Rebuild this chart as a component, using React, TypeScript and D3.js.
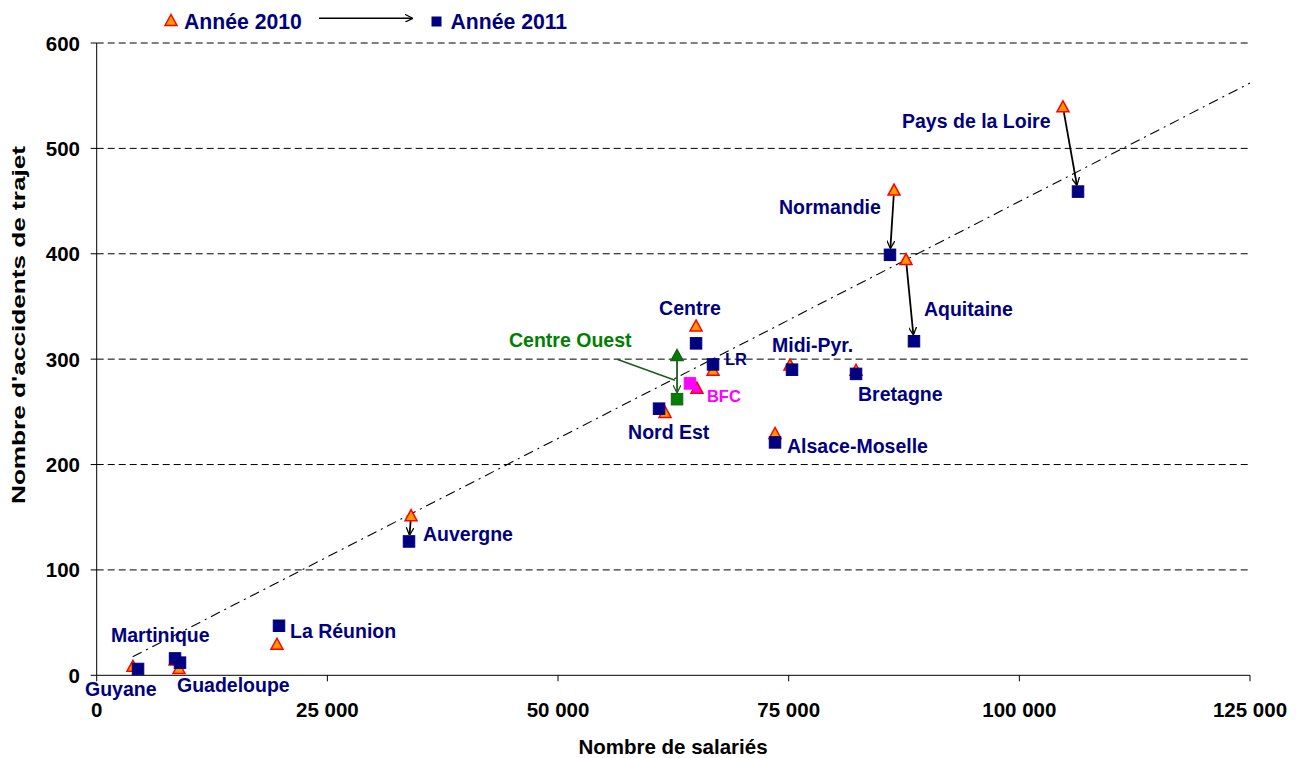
import React from 'react';
import * as d3 from 'd3';

// ---------- DATA ----------
const regions = [
  'Pays de la Loire', 'Normandie', 'Aquitaine', 'Midi-Pyr.', 'Bretagne', 'Alsace-Moselle',
  'Centre', 'LR', 'BFC', 'Centre Ouest', 'Nord Est', 'Auvergne', 'La Réunion',
  'Martinique', 'Guadeloupe', 'Guyane',
];
const salaries2010 = [104730, 86420, 87720, 75140, 82300, 73520, 64960, 66800, 65060, 62900, 61600, 34070, 19540, 8500, 8920, 3930];
const accidents2010 = [539, 460, 394, 294, 289, 229, 331, 289, 272, 303, 249, 151, 29, 14, 6, 8];
const salaries2011 = [106360, 85980, 88580, 75360, 82300, 73520, 64960, 66800, 64300, 62900, 60950, 33850, 19760, 8490, 9030, 4480];
const accidents2011 = [459, 399, 317, 290, 286, 221, 315, 295, 277, 262, 253, 127, 47, 16, 12, 6];
const arrowRegions = ['Pays de la Loire', 'Normandie', 'Aquitaine', 'Auvergne', 'Centre Ouest'];
const trendSalaries = [3900, 125000];
const trendAccidents = [17.5, 562];
const xTickValues = [0, 25000, 50000, 75000, 100000, 125000];
const yTickValues = [0, 100, 200, 300, 400, 500, 600];
const legendLabels = ['Année 2010', 'Année 2011'];
const xTitle = 'Nombre de salariés';
const yTitle = "Nombre d'accidents de trajet";

// ---------- LAYOUT / STYLE ----------
const W = 1304, H = 758;
const left = 96.7, right = 1250, top = 43, bottom = 675.3;
const NAVY = '#000080';
const ORANGE = '#FF9900';
const RED = '#FF0000';
const MAGENTA = '#FF00FF';
const GREEN = '#008000';
const DKGREEN = '#1E5B1E';
const FONT = 'Arial, "Liberation Sans", sans-serif';

// label offsets relative to the 2011 marker (px), font size
const labelStyle: Record<string, { dx: number; dy: number; size: number; color: string }> = {
  'Pays de la Loire': { dx: -176, dy: -64, size: 19.5, color: NAVY },
  'Normandie': { dx: -111, dy: -41, size: 19.5, color: NAVY },
  'Aquitaine': { dx: 10, dy: -25, size: 19.5, color: NAVY },
  'Midi-Pyr.': { dx: -20, dy: -18, size: 19.5, color: NAVY },
  'Bretagne': { dx: 2, dy: 27, size: 19.5, color: NAVY },
  'Alsace-Moselle': { dx: 12, dy: 11, size: 19.5, color: NAVY },
  'Centre': { dx: -37, dy: -28, size: 19.5, color: NAVY },
  'LR': { dx: 12, dy: 1, size: 16.5, color: NAVY },
  'BFC': { dx: 17, dy: 19, size: 16.5, color: MAGENTA },
  'Centre Ouest': { dx: -168, dy: -52, size: 19.5, color: GREEN },
  'Nord Est': { dx: -31, dy: 30, size: 19.5, color: NAVY },
  'Auvergne': { dx: 14, dy: 0, size: 19.5, color: NAVY },
  'La Réunion': { dx: 11, dy: 12, size: 19.5, color: NAVY },
  'Martinique': { dx: -64, dy: -16, size: 19.5, color: NAVY },
  'Guadeloupe': { dx: -3, dy: 29, size: 19.5, color: NAVY },
  'Guyane': { dx: -53, dy: 27, size: 19.5, color: NAVY },
};

function markerColors(name: string) {
  if (name === 'BFC') return { triFill: MAGENTA, triStroke: RED, sqFill: MAGENTA, sqStroke: MAGENTA };
  if (name === 'Centre Ouest') return { triFill: GREEN, triStroke: DKGREEN, sqFill: GREEN, sqStroke: DKGREEN };
  return { triFill: ORANGE, triStroke: RED, sqFill: NAVY, sqStroke: NAVY };
}

const triPath = 'M0,-6.5 L6,4.5 L-6,4.5 Z';

export default function App() {
  const x = d3.scaleLinear().domain([0, 125000]).range([left, right]);
  const y = d3.scaleLinear().domain([0, 600]).range([bottom, top]);
  const fmt = (v: number) => d3.format(',')(v).replace(/,/g, ' ');

  const trendLine = d3.line<number>()
    .x((_, i) => x(trendSalaries[i]))
    .y((_, i) => y(trendAccidents[i]))(trendSalaries) as string;

  const sq = 11.5;

  const arrows = arrowRegions.map((name) => {
    const i = regions.indexOf(name);
    const x1 = x(salaries2010[i]), y1 = y(accidents2010[i]);
    const x2 = x(salaries2011[i]), y2 = y(accidents2011[i]);
    const dx = x2 - x1, dy = y2 - y1;
    const len = Math.sqrt(dx * dx + dy * dy);
    const ux = dx / len, uy = dy / len;
    return {
      name,
      x1: x1 + ux * 5, y1: y1 + uy * 5,
      x2: x2 - ux * 7, y2: y2 - uy * 7,
      color: name === 'Centre Ouest' ? DKGREEN : '#000',
    };
  });

  const coIdx = regions.indexOf('Centre Ouest');
  const coX = x(salaries2011[coIdx]), coY = y(accidents2011[coIdx]);

  return (
    <svg width={W} height={H} style={{ position: 'absolute', left: 0, top: 0, background: '#fff' }}
      fontFamily={FONT}>
      <defs>
        <marker id="arrBlack" viewBox="0 0 10 10" refX="9" refY="5" markerWidth="8" markerHeight="8"
          markerUnits="userSpaceOnUse" orient="auto">
          <path d="M0,0 L10,5 L0,10" fill="none" stroke="#000" strokeWidth="1.6" />
        </marker>
        <marker id="arrGreen" viewBox="0 0 10 10" refX="9" refY="5" markerWidth="8" markerHeight="8"
          markerUnits="userSpaceOnUse" orient="auto">
          <path d="M0,0 L10,5 L0,10" fill="none" stroke={DKGREEN} strokeWidth="1.6" />
        </marker>
      </defs>

      {/* grid */}
      {yTickValues.filter((v) => v > 0).map((v) => (
        <line key={'g' + v} x1={left} x2={right} y1={y(v)} y2={y(v)} stroke="#000" strokeWidth={1}
          strokeDasharray="7 4" />
      ))}

      {/* axes */}
      <line x1={left} x2={left} y1={top} y2={bottom} stroke="#000" strokeWidth={1} />
      <line x1={left} x2={right} y1={bottom} y2={bottom} stroke="#000" strokeWidth={1} />
      {yTickValues.map((v) => (
        <g key={'yt' + v}>
          <line x1={left - 6} x2={left} y1={y(v)} y2={y(v)} stroke="#000" />
          <text x={80} y={y(v) + 7.5} textAnchor="end" fontSize={20.5} fontWeight="bold" fill="#000">{v}</text>
        </g>
      ))}
      {xTickValues.map((v) => (
        <g key={'xt' + v}>
          <line x1={x(v)} x2={x(v)} y1={bottom} y2={bottom + 6} stroke="#000" />
          <text x={x(v)} y={717} textAnchor="middle" fontSize={20.5} fontWeight="bold" fill="#000">{fmt(v)}</text>
        </g>
      ))}
      <text x={673} y={754} textAnchor="middle" fontSize={20.5} fontWeight="bold" fill="#000">{xTitle}</text>
      <text transform={`translate(25,${325}) rotate(-90)`} textAnchor="middle" fontSize={19}
        fontWeight="bold" fill="#000" textLength={358} lengthAdjust="spacingAndGlyphs">{yTitle}</text>

      {/* trend line */}
      <path d={trendLine} fill="none" stroke="#000" strokeWidth={1.1} strokeDasharray="10 5 2 5" />

      {/* arrows */}
      {arrows.map((a) => (
        <line key={'a' + a.name} x1={a.x1} y1={a.y1} x2={a.x2} y2={a.y2} stroke={a.color} strokeWidth={1.8}
          markerEnd={a.name === 'Centre Ouest' ? 'url(#arrGreen)' : 'url(#arrBlack)'} />
      ))}
      {/* Centre Ouest leader */}
      <line x1={coX - 60} y1={coY - 40} x2={coX - 2} y2={coY - 19} stroke={DKGREEN} strokeWidth={1.5} />

      {/* 2010 markers */}
      {regions.map((name, i) => {
        const c = markerColors(name);
        return (
          <path key={'t' + name} d={triPath}
            transform={`translate(${x(salaries2010[i])},${y(accidents2010[i])})`}
            fill={c.triFill} stroke={c.triStroke} strokeWidth={1.5} />
        );
      })}
      {/* 2011 markers */}
      {regions.map((name, i) => {
        const c = markerColors(name);
        return (
          <rect key={'s' + name} x={x(salaries2011[i]) - sq / 2} y={y(accidents2011[i]) - sq / 2}
            width={sq} height={sq} fill={c.sqFill} stroke={c.sqStroke} strokeWidth={1} />
        );
      })}

      {/* labels */}
      {regions.map((name, i) => {
        const s = labelStyle[name];
        return (
          <text key={'l' + name} x={x(salaries2011[i]) + s.dx} y={y(accidents2011[i]) + s.dy}
            fontSize={s.size} fontWeight="bold" fill={s.color}>{name}</text>
        );
      })}

      {/* legend */}
      <path d={triPath} transform="translate(171,21)" fill={ORANGE} stroke={RED} strokeWidth={1.5} />
      <text x={184} y={29} fontSize={21.2} fontWeight="bold" fill={NAVY}>{legendLabels[0]}</text>
      <line x1={319} x2={412} y1={18.3} y2={18.3} stroke="#000" strokeWidth={1.5} markerEnd="url(#arrBlack)" />
      <rect x={431.5} y={16.5} width={10} height={10} fill={NAVY} />
      <text x={450.5} y={29} fontSize={21.2} fontWeight="bold" fill={NAVY}>{legendLabels[1]}</text>
    </svg>
  );
}
